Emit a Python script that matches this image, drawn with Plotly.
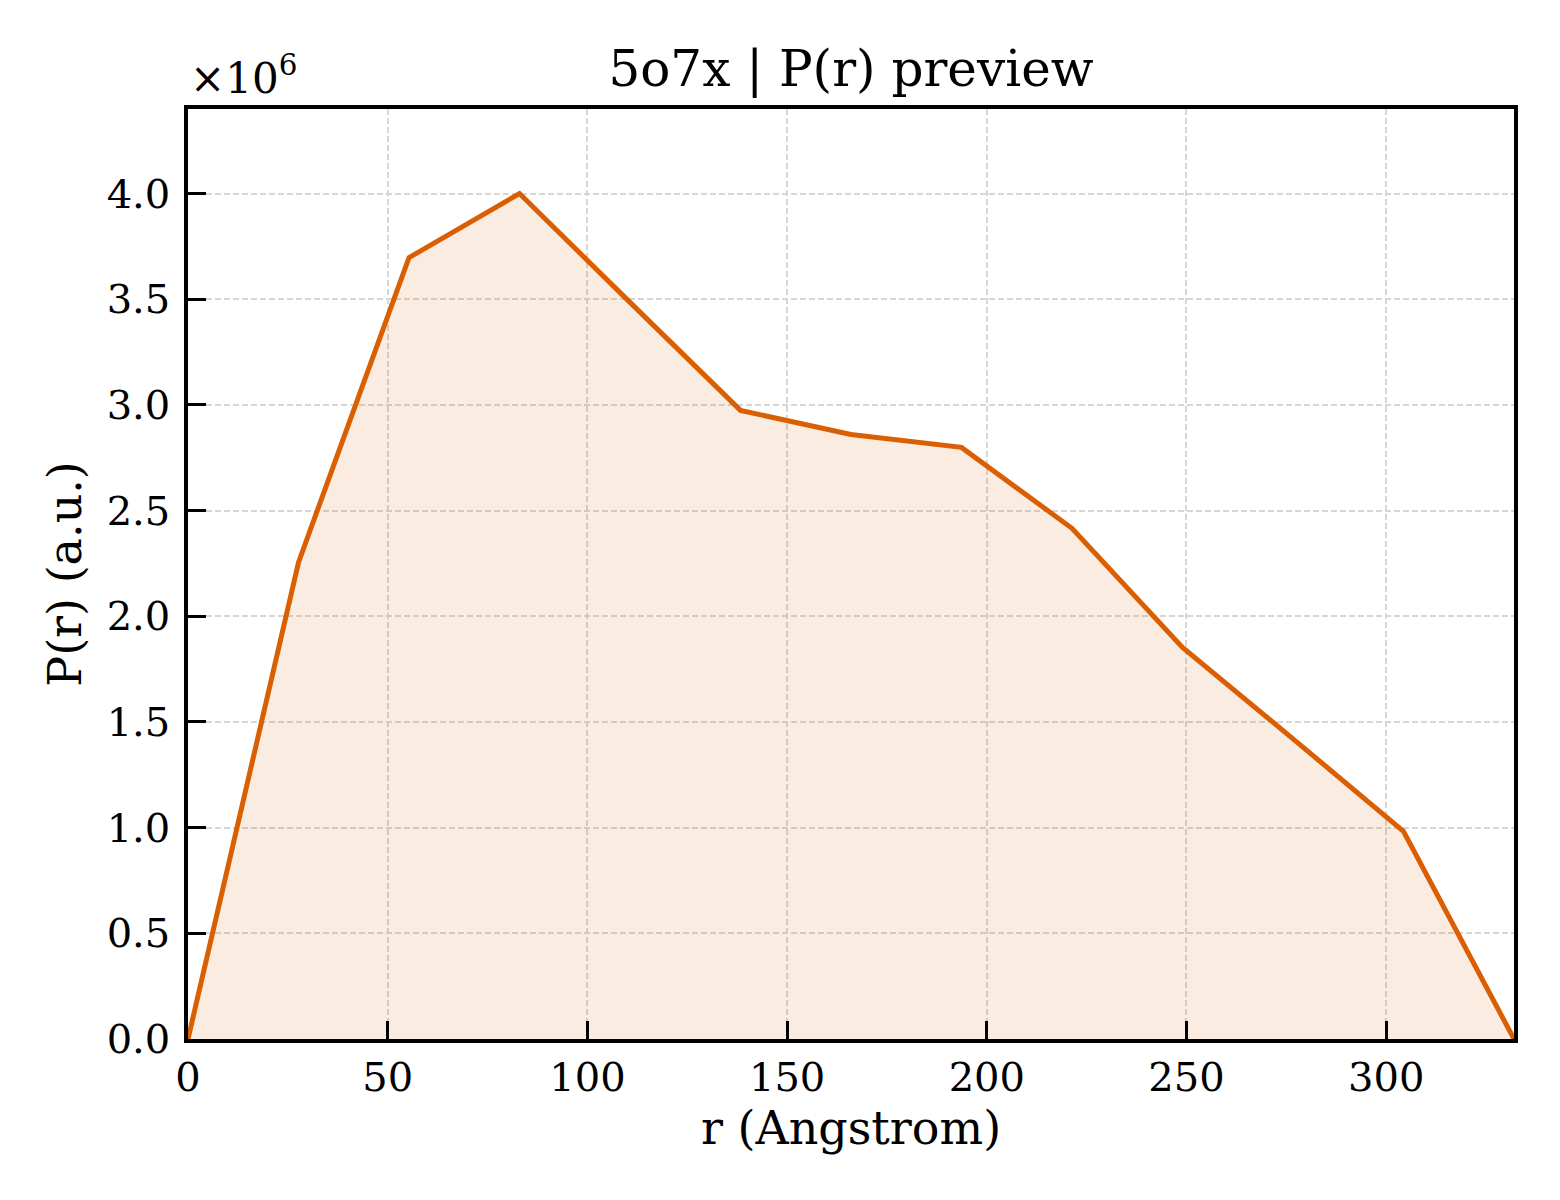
import numpy as np
import plotly.graph_objects as go

# P(r) curve
r_angstrom = [0.0, 27.67, 55.33, 83.0, 110.67, 138.33, 166.0, 193.67, 221.33, 249.0, 276.67, 304.33, 332.0]
p_r = [0.0, 2.255e6, 3.697e6, 4.0e6, 3.485e6, 2.974e6, 2.86e6, 2.799e6, 2.416e6, 1.853e6, 1.42e6, 0.983e6, 0.0]

y_ticks = [0.0, 0.5, 1.0, 1.5, 2.0, 2.5, 3.0, 3.5, 4.0]
x_ticks = [0, 50, 100, 150, 200, 250, 300]

font = "DejaVu Serif"
line_color = "#d95f02"

fig = go.Figure()
fig.add_trace(go.Scatter(x=r_angstrom, y=p_r, mode="lines", fill="tozeroy",
                         fillcolor="rgba(217,95,2,0.12)",
                         line=dict(color=line_color, width=5), showlegend=False))

axis_common = dict(showline=True, linecolor="black", linewidth=3.5, mirror=True,
                   ticks="inside", ticklen=18, tickwidth=3, tickcolor="black",
                   showgrid=True, gridcolor="#d6d6d6", gridwidth=2, griddash="6px,3px",
                   zeroline=False, tickfont=dict(family=font, size=40, color="black"),
                   title_font=dict(family=font, size=46, color="black"))

fig.update_xaxes(range=[0, 332], tickvals=x_ticks, title_text="r (Angstrom)",
                 title_standoff=14, ticklabelstandoff=0, **axis_common)
fig.update_yaxes(range=[0, 4.4e6], tickvals=[v * 1e6 for v in y_ticks],
                 ticktext=["%.1f" % v for v in y_ticks], title_text="P(r) (a.u.)",
                 title_standoff=12, ticklabelstandoff=6, **axis_common)

fig.add_annotation(text="×10<sup>6</sup>", xref="paper", yref="paper", x=0.0, y=1.0,
                   xanchor="left", yanchor="bottom", yshift=4, showarrow=False,
                   font=dict(family=font, size=42, color="black"))

# page body adds an 8px margin, so the figure is shifted by that amount
fig.update_layout(width=1552, height=1192, plot_bgcolor="white", paper_bgcolor="white",
                  margin=dict(l=180, r=46, t=101, b=161),
                  title=dict(text="5o7x | P(r) preview", xref="paper", x=0.5, xanchor="center",
                             y=1 - 60 / 1192, yanchor="middle",
                             font=dict(family=font, size=50, color="black")))

fig.write_html("out.html")
